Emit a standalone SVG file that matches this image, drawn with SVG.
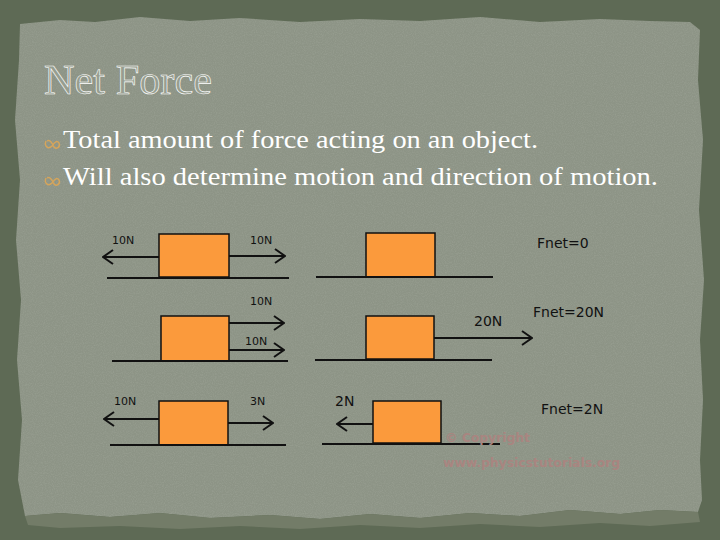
<svg xmlns="http://www.w3.org/2000/svg" width="720" height="540" viewBox="0 0 720 540">
<defs>
<style>
.box{fill:#fb9a3c;stroke:#111;stroke-width:1.5}
.ln{stroke:#111;stroke-width:2;fill:none}
.lbl{font-family:"DejaVu Sans",sans-serif;font-size:11px;fill:#111}
.fn{font-family:"DejaVu Sans",sans-serif;font-size:14px;fill:#111}
.body{font-family:"Liberation Serif","DejaVu Serif",serif;font-size:25px;fill:#fff}
.bul{fill:none;stroke:#d7a55a;stroke-width:1.4}
.wm{font-family:"DejaVu Sans",sans-serif;font-size:13px;font-weight:bold;fill:#a98580}
</style>
<marker id="ah" viewBox="0 0 12 16" refX="11" refY="8" markerWidth="12" markerHeight="16" markerUnits="userSpaceOnUse" orient="auto">
<polyline points="1,1 11,8 1,15" fill="none" stroke="#111" stroke-width="2"/>
</marker>
<filter id="tex" x="0" y="0" width="100%" height="100%">
<feTurbulence type="fractalNoise" baseFrequency="0.9" numOctaves="2" seed="3" result="n"/>
<feColorMatrix in="n" type="matrix" values="0 0 0 0 0.45  0 0 0 0 0.48  0 0 0 0 0.42  0 0 0 -1.2 0.75" result="c"/>
<feComposite in="c" in2="SourceGraphic" operator="in"/>
</filter>
</defs>
<rect id="bg" x="0" y="0" width="720" height="540" fill="#5e6a55"/>
<path id="paper" d="M20,24 L60,20 L95,22 L140,17 L190,21 L240,18 L300,22 L360,19 L420,21 L480,17 L540,22 L600,19 L650,21 L690,22 L700,30 L698,80 L703,140 L699,210 L704,280 L700,340 L703,400 L700,460 L702,500 L698,512 L660,510 L620,514 L570,510 L520,516 L470,513 L420,518 L370,514 L320,519 L270,515 L210,518 L160,513 L110,517 L60,513 L25,516 L18,480 L22,420 L17,360 L21,300 L16,240 L20,180 L15,120 L19,60 Z" fill="#8d9486"/>
<path d="M20,24 L60,20 L95,22 L140,17 L190,21 L240,18 L300,22 L360,19 L420,21 L480,17 L540,22 L600,19 L650,21 L690,22 L700,30 L698,80 L703,140 L699,210 L704,280 L700,340 L703,400 L700,460 L702,500 L698,512 L660,510 L620,514 L570,510 L520,516 L470,513 L420,518 L370,514 L320,519 L270,515 L210,518 L160,513 L110,517 L60,513 L25,516 L18,480 L22,420 L17,360 L21,300 L16,240 L20,180 L15,120 L19,60 Z" fill="#8d9486" filter="url(#tex)" opacity="0.4"/>
<path d="M25,516 L60,513 L110,517 L160,513 L210,518 L270,515 L320,519 L370,514 L420,518 L470,513 L520,516 L570,510 L620,514 L660,510 L698,512 L700,522 L650,526 L600,523 L540,527 L480,524 L420,528 L360,525 L300,529 L240,526 L180,529 L120,526 L60,528 L28,525 Z" fill="#737c68"/>

<g id="title">
<text x="44" y="94" font-family="Liberation Serif,DejaVu Serif,serif" font-size="42" fill="#979e90" stroke="#ffffff" stroke-width="0.6" textLength="168" lengthAdjust="spacingAndGlyphs">Net Force</text>
</g>
<g id="bullets">
<path class="bul" d="M46,141 C44,146 48,150 52,146 C55,142 57,140 59,143 C61,147 56,150 54,147 C52,143 50,139 47,141"/>
<text class="body" x="63" y="148" textLength="475" lengthAdjust="spacingAndGlyphs">Total amount of force acting on an object.</text>
<path class="bul" d="M46,178 C44,183 48,187 52,183 C55,179 57,177 59,180 C61,184 56,187 54,184 C52,180 50,176 47,178"/>
<text class="body" x="63" y="185" textLength="595" lengthAdjust="spacingAndGlyphs">Will also determine motion and direction of motion.</text>
</g>

<g id="d1">
<rect class="box" x="159" y="234" width="70" height="43"/>
<text class="lbl" x="112" y="244">10N</text>
<text class="lbl" x="250" y="244">10N</text>
</g>
<g id="d2">
<rect class="box" x="161" y="316" width="68" height="45"/>
<text class="lbl" x="250" y="305">10N</text>
<text class="lbl" x="245" y="345">10N</text>
</g>
<g id="d3">
<rect class="box" x="366" y="233" width="69" height="44"/>
<text class="fn" x="537" y="248">Fnet=0</text>
</g>
<g id="d4">
<rect class="box" x="366" y="316" width="68" height="43"/>
<text class="fn" x="474" y="326">20N</text>
<text class="fn" x="533" y="317">Fnet=20N</text>
</g>
<g id="d5">
<rect class="box" x="159" y="401" width="69" height="44"/>
<text class="lbl" x="114" y="405">10N</text>
<text class="lbl" x="250" y="405">3N</text>
</g>
<g id="d6">
<rect class="box" x="373" y="401" width="68" height="42"/>
<text class="fn" x="335" y="406">2N</text>
<text class="fn" x="541" y="414">Fnet=2N</text>
</g>

<g id="connectors">
<line class="ln" x1="107" y1="278" x2="289" y2="278"/>
<line class="ln" x1="159" y1="257" x2="103" y2="257" marker-end="url(#ah)"/>
<line class="ln" x1="229" y1="256" x2="285" y2="256" marker-end="url(#ah)"/>
<line class="ln" x1="112" y1="361" x2="288" y2="361"/>
<line class="ln" x1="229" y1="323" x2="284" y2="323" marker-end="url(#ah)"/>
<line class="ln" x1="229" y1="350" x2="284" y2="350" marker-end="url(#ah)"/>
<line class="ln" x1="316" y1="277" x2="493" y2="277"/>
<line class="ln" x1="315" y1="360" x2="492" y2="360"/>
<line class="ln" x1="434" y1="338" x2="532" y2="338" marker-end="url(#ah)"/>
<line class="ln" x1="110" y1="445" x2="286" y2="445"/>
<line class="ln" x1="159" y1="419" x2="104" y2="419" marker-end="url(#ah)"/>
<line class="ln" x1="228" y1="423" x2="273" y2="423" marker-end="url(#ah)"/>
<line class="ln" x1="322" y1="444" x2="500" y2="444"/>
<line class="ln" x1="373" y1="424" x2="337" y2="424" marker-end="url(#ah)"/>
</g>

<g id="watermark">
<text class="wm" x="445" y="442" textLength="85" lengthAdjust="spacingAndGlyphs">© Copyright</text>
<text class="wm" x="443" y="467" textLength="177" lengthAdjust="spacingAndGlyphs">www.physicstutorials.org</text>
</g>
</svg>
